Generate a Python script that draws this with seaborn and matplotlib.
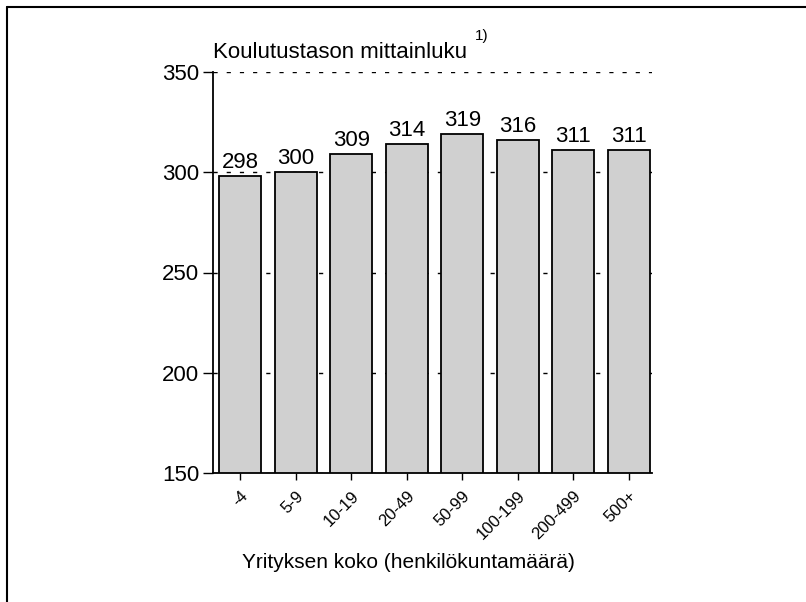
import matplotlib
matplotlib.use("Agg")
import matplotlib.pyplot as plt
from matplotlib.lines import Line2D
import seaborn as sns

# Yrityksen koko ja koulutustason mittainluku
categories = ["-4", "5-9", "10-19", "20-49", "50-99", "100-199", "200-499", "500+"]
values = [298, 300, 309, 314, 319, 316, 311, 311]
yticks = [150, 200, 250, 300, 350]

sns.set_style("ticks")
plt.rcParams["font.family"] = ["Liberation Sans", "DejaVu Sans"]
plt.rcParams["text.color"] = "black"
plt.rcParams["xtick.color"] = "black"
plt.rcParams["ytick.color"] = "black"

fig = plt.figure(figsize=(8.06, 6.02), dpi=100)
ax = fig.add_axes([213 / 806, 129 / 602, 439 / 806, 401 / 602])

sns.barplot(x=categories, y=values, color="#d0d0d0", saturation=1,
            edgecolor="black", linewidth=1.3, width=0.76, ax=ax)

ax.bar_label(ax.containers[0], padding=2, fontsize=16, color="black")

ax.set_ylim(150, 350)
ax.set_xlim(-0.49, 7.42)
ax.set_yticks(yticks)
ax.set_yticklabels([str(t) for t in yticks], fontsize=16)
ax.set_xticks(range(len(categories)))
ax.set_xticklabels(categories, fontsize=12, rotation=45, ha="right",
                   rotation_mode="anchor")
ax.tick_params(axis="y", length=7, width=1, pad=3)
ax.tick_params(axis="x", length=5, width=1, pad=6)
ax.set_xlabel("")
ax.set_ylabel("")

ax.yaxis.grid(True, color="black", linewidth=1, linestyle=(0, (3, 6.5)))
ax.set_axisbelow(True)
sns.despine(ax=ax)
for s in ["left", "bottom"]:
    ax.spines[s].set_linewidth(1.3)
    ax.spines[s].set_color("black")

fig.text(213 / 806, 1 - 58 / 602, "Koulutustason mittainluku", fontsize=16,
         va="baseline", ha="left")
fig.text(475 / 806, 1 - 40 / 602, "1)", fontsize=11, va="baseline", ha="left")
fig.text(408 / 806, 1 - 563 / 602, "Yrityksen koko (henkilökuntamäärä)",
         fontsize=15, va="center", ha="center")

# kehys
fig.add_artist(Line2D([7 / 806, 1], [1 - 7 / 602, 1 - 7 / 602],
                      transform=fig.transFigure, color="black", linewidth=1.5))
fig.add_artist(Line2D([7 / 806, 7 / 806], [0, 1 - 7 / 602],
                      transform=fig.transFigure, color="black", linewidth=1.5))

fig.savefig("out.png", dpi=100)
